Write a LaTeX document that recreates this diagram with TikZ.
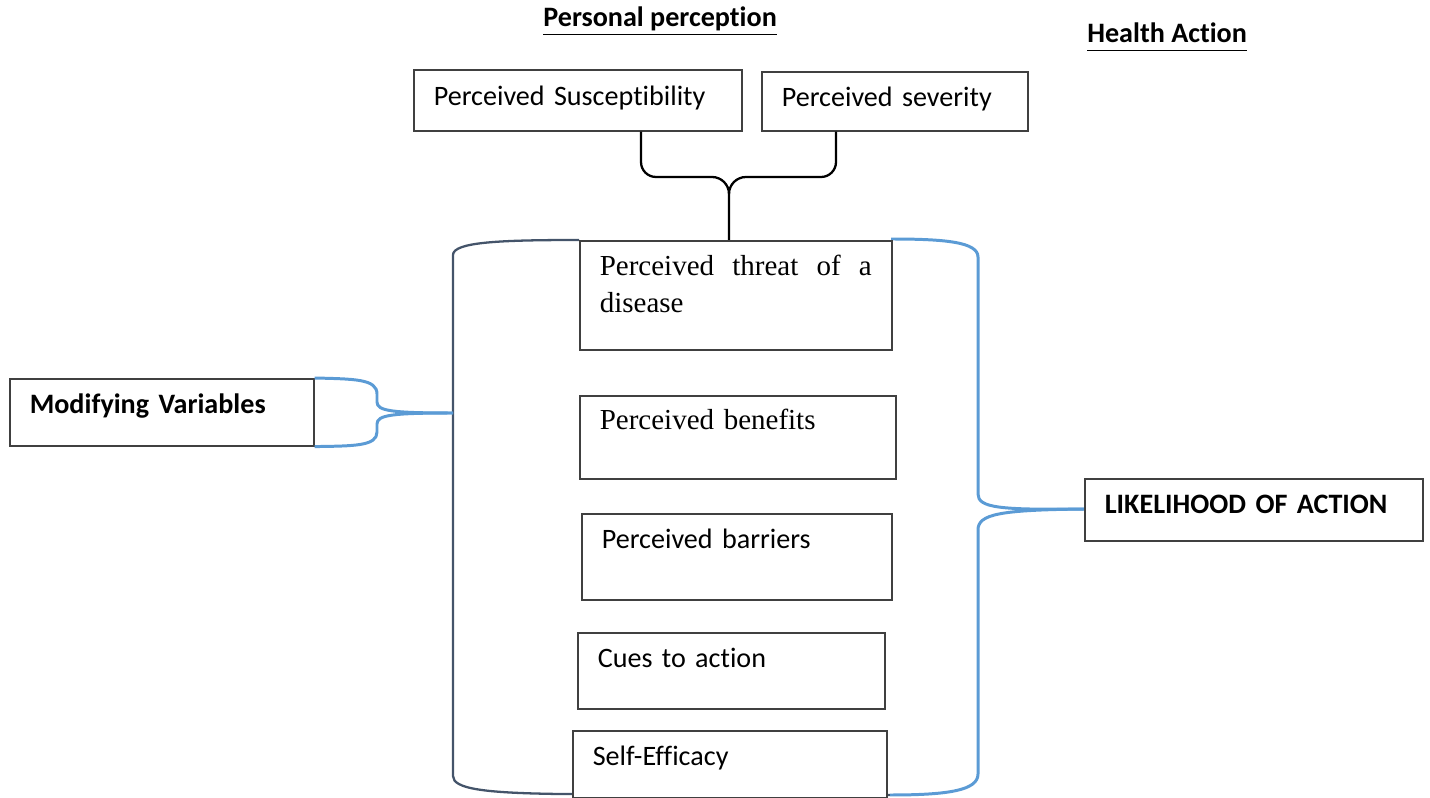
\documentclass[tikz,border=0pt]{standalone}
\usepackage{fontspec}
\setmainfont{Carlito}[RawFeature={-liga;-clig;-calt;-dlig}]
\newfontfamily\timesfont{Liberation Serif}
\usepackage{tikz}
\usetikzlibrary{calc}
\definecolor{hbmblue}{RGB}{91,155,213}
\definecolor{hbmslate}{RGB}{68,84,106}
\definecolor{hbmgray}{RGB}{64,64,64}
\newcommand{\hbmfont}{\fontsize{16}{19}\selectfont}
\newcommand{\hbmserif}{\timesfont\fontsize{16.5}{21}\selectfont}
\newcommand{\hbmuline}[1]{\underline{#1\vphantom{p}}}
\tikzset{
  hbmbox/.style={
    rectangle, draw=hbmgray, line width=0.9pt, fill=white,
    anchor=north west, inner xsep=0.4cm, inner ysep=0pt,
    align=left, font=\hbmfont
  },
  serifbox/.style={hbmbox, font=\hbmserif},
  keybox/.style={hbmbox, font=\hbmfont\bfseries},
  heading/.style={anchor=base west, inner sep=0pt, font=\hbmfont\bfseries},
  bluebrace/.style={draw=hbmblue, line width=1.7pt},
  slateline/.style={draw=hbmslate, line width=1.3pt},
  blackbrace/.style={draw=black, line width=1.3pt}
}

\begin{document}
\begin{tikzpicture}[x=0.2mm, y=-0.2mm]
\useasboundingbox (0,0) rectangle (1430,798);

% -------- HEADINGS --------
\node[heading] (hpers) at (543,27) {\hbmuline{Personal perception}};
\node[heading] (hact) at (1087,43) {\hbmuline{Health Action}};

% -------- CONTAINER LINES (drawn under the boxes) --------
\coordinate (mvtip) at (453,413);
\coordinate (cusp) at (729,194);

\draw[slateline] (579,240) .. controls (500,240) and (453,242) .. (453,255)
  -- (mvtip) -- (453,776) .. controls (453,789) and (485,793) .. (560,794) -- (890,795);
\draw[bluebrace] (891,239) .. controls (945,239) and (978,242) .. (978,257)
  -- (978,494) .. controls (978,508) and (1000,510) .. (1084,509);
\draw[bluebrace] (1084,509) .. controls (1000,510) and (978,514) .. (978,530)
  -- (978,774) .. controls (978,790) and (950,795) .. (890,795);

% -------- BOXES --------
\node[hbmbox, text width=5.76cm, text height=0.72cm, text depth=0.5cm] (sus) at (413,69) {Perceived Susceptibility};
\node[hbmbox, text width=4.52cm, text height=0.7cm, text depth=0.48cm] (sev) at (761,71) {Perceived severity};
\node[serifbox, align=justify, text width=5.44cm, text height=0.7cm, text depth=1.48cm] (threat) at (579,240) {Perceived threat of a\linebreak disease};
\node[serifbox, text width=5.52cm, text height=0.68cm, text depth=0.98cm] (benef) at (579,395) {Perceived benefits};
\node[hbmbox, text width=5.4cm, text height=0.7cm, text depth=1.02cm] (barr) at (581,513) {Perceived barriers};
\node[hbmbox, text width=5.34cm, text height=0.7cm, text depth=0.82cm] (cues) at (577,632) {Cues to action};
\node[hbmbox, text width=5.48cm, text height=0.7cm, text depth=0.64cm] (self) at (572,730) {Self-Efficacy};
\node[keybox, text width=5.28cm, text height=0.7cm, text depth=0.64cm] (modvar) at (9,378) {Modifying Variables};
\node[keybox, text width=5.96cm, text height=0.7cm, text depth=0.54cm] (likely) at (1084,478) {LIKELIHOOD OF ACTION};

% -------- BRACES --------
\coordinate (susfoot) at ($(sus.south west)+(228,0)$);
\coordinate (sevfoot) at ($(sev.south west)+(75,0)$);
\draw[blackbrace] (susfoot) -- (641,162) to[out=-90,in=180] (656,177) -- (712,177) to[out=0,in=90] (cusp) -- (cusp |- threat.north);
\draw[blackbrace] (sevfoot) -- (836,162) to[out=-90,in=0] (821,177) -- (746,177) to[out=180,in=90] (cusp);

\draw[bluebrace] (modvar.north east) .. controls (355,379) and (377,379) .. (377,394)
  -- (377,402) .. controls (377,411) and (392,413) .. (mvtip);
\draw[bluebrace] (modvar.south east) .. controls (355,446) and (377,446) .. (377,432)
  -- (377,424) .. controls (377,415) and (392,413) .. (mvtip);

\end{tikzpicture}
\end{document}
